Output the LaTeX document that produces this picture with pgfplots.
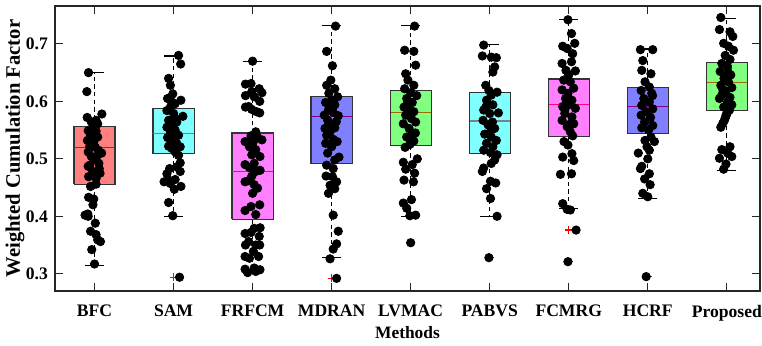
\documentclass[border=0pt]{standalone}
\usepackage{pgfplots}
\pgfplotsset{compat=1.18}
\usepackage{fontspec}
\setmainfont{Liberation Serif}
\definecolor{bred}{RGB}{255,128,128}
\definecolor{bcyan}{RGB}{128,255,255}
\definecolor{bmag}{RGB}{255,128,255}
\definecolor{bblue}{RGB}{128,128,255}
\definecolor{bgreen}{RGB}{128,255,128}
\definecolor{medgray}{RGB}{128,128,128}
\definecolor{medpink}{RGB}{255,0,128}
\definecolor{medpurp}{RGB}{128,0,128}
\definecolor{medolive}{RGB}{150,110,0}
\pgfplotsset{dots/.style={only marks, mark=*, mark size=2.1pt, draw=black, fill=black, mark options={fill=black, draw=black}},
  whisk/.style={black, line width=0.5pt, dash pattern=on 2.2pt off 1.6pt, mark=none},
  bx/.style={draw=black!80, line width=0.6pt, mark=none, fill=#1},
  med/.style={draw=#1, line width=0.6pt, mark=none}}
\begin{document}
\begin{tikzpicture}
\begin{axis}[name=ax, scale only axis, width=352.5pt, height=142.5pt,
  xmin=0.5, xmax=9.42, ymin=0.27, ymax=0.766,
  xtick={1,2,3,4,5,6,7,8,9},
  xticklabels={BFC,SAM,FRFCM,MDRAN,LVMAC,PABVS,FCMRG,HCRF,Proposed},
  ytick={0.3,0.4,0.5,0.6,0.7},
  yticklabel style={/pgf/number format/fixed,/pgf/number format/precision=1},
  xticklabel style={yshift=-3.5pt},
  /pgf/number format/assume math mode=true,
  tick label style={font=\fontsize{8.8}{10}\selectfont\bfseries},
  xlabel={Methods}, ylabel={Weighted Cumulation Factor},
  xlabel style={font=\fontsize{8.7}{10}\selectfont\bfseries, at={(axis description cs:0.5,-0.147)}, anchor=center},
  ylabel style={font=\fontsize{10.3}{12}\selectfont\bfseries, at={(axis description cs:-0.0567,0.5)}, anchor=center},
  axis line style={line width=0.6pt, black!85},
  major tick style={black!85, line width=0.5pt},
  major tick length=4pt, tick align=inside,
]
% whiskers
\addplot[whisk] coordinates {(1,0.5556) (1,0.650)};
\addplot[whisk] coordinates {(1,0.456) (1,0.3146)};
\addplot[whisk] coordinates {(2,0.5877) (2,0.679)};
\addplot[whisk] coordinates {(2,0.5087) (2,0.400)};
\addplot[whisk] coordinates {(3,0.545) (3,0.670)};
\addplot[whisk] coordinates {(3,0.3946) (3,0.301)};
\addplot[whisk] coordinates {(4,0.6078) (4,0.732)};
\addplot[whisk] coordinates {(4,0.4913) (4,0.3278)};
\addplot[whisk] coordinates {(5,0.619) (5,0.732)};
\addplot[whisk] coordinates {(5,0.5226) (5,0.400)};
\addplot[whisk] coordinates {(6,0.6155) (6,0.699)};
\addplot[whisk] coordinates {(6,0.5087) (6,0.399)};
\addplot[whisk] coordinates {(7,0.639) (7,0.743)};
\addplot[whisk] coordinates {(7,0.5395) (7,0.413)};
\addplot[whisk] coordinates {(8,0.6235) (8,0.691)};
\addplot[whisk] coordinates {(8,0.5447) (8,0.431)};
\addplot[whisk] coordinates {(9,0.6677) (9,0.744)};
\addplot[whisk] coordinates {(9,0.584) (9,0.480)};
% boxes
\addplot[bx=bred] coordinates {(0.74,0.456) (1.26,0.456) (1.26,0.5556) (0.74,0.5556) (0.74,0.456)};
\addplot[bx=bcyan] coordinates {(1.74,0.5087) (2.26,0.5087) (2.26,0.5877) (1.74,0.5877) (1.74,0.5087)};
\addplot[bx=bmag] coordinates {(2.74,0.3946) (3.26,0.3946) (3.26,0.545) (2.74,0.545) (2.74,0.3946)};
\addplot[bx=bblue] coordinates {(3.74,0.4913) (4.26,0.4913) (4.26,0.6078) (3.74,0.6078) (3.74,0.4913)};
\addplot[bx=bgreen] coordinates {(4.74,0.5226) (5.26,0.5226) (5.26,0.619) (4.74,0.619) (4.74,0.5226)};
\addplot[bx=bcyan] coordinates {(5.74,0.5087) (6.26,0.5087) (6.26,0.6155) (5.74,0.6155) (5.74,0.5087)};
\addplot[bx=bmag] coordinates {(6.74,0.5395) (7.26,0.5395) (7.26,0.639) (6.74,0.639) (6.74,0.5395)};
\addplot[bx=bblue] coordinates {(7.74,0.5447) (8.26,0.5447) (8.26,0.6235) (7.74,0.6235) (7.74,0.5447)};
\addplot[bx=bgreen] coordinates {(8.74,0.584) (9.26,0.584) (9.26,0.6677) (8.74,0.6677) (8.74,0.584)};
% medians
\addplot[med=red] coordinates {(0.745,0.520) (1.255,0.520)};
\addplot[med=medgray] coordinates {(1.745,0.5435) (2.255,0.5435)};
\addplot[med=medpink] coordinates {(2.745,0.4786) (3.255,0.4786)};
\addplot[med=medpurp] coordinates {(3.745,0.573) (4.255,0.573)};
\addplot[med=medolive] coordinates {(4.745,0.581) (5.255,0.581)};
\addplot[med=medgray] coordinates {(5.745,0.566) (6.255,0.566)};
\addplot[med=medpink] coordinates {(6.745,0.594) (7.255,0.594)};
\addplot[med=medpurp] coordinates {(7.745,0.5917) (8.255,0.5917)};
\addplot[med=medolive] coordinates {(8.745,0.6333) (9.255,0.6333)};
% whisker caps
\addplot[only marks, mark=-, mark size=4.75pt, black, mark options={line width=0.6pt}] coordinates {
(1,0.650) (1,0.3146) (2,0.679) (2,0.400) (3,0.670) (3,0.301) (4,0.732) (4,0.3278)
(5,0.732) (5,0.400) (6,0.699) (6,0.399) (7,0.743) (7,0.413) (8,0.691) (8,0.431) (9,0.744) (9,0.480)};
% outliers
\addplot[only marks, mark=+, red, mark size=2pt, mark options={line width=0.6pt}] coordinates {
(2,0.294) (4,0.292) (5,0.354) (6,0.328) (7,0.376) (7,0.321) (8,0.295)};
% data points
\addplot[dots] table {
0.924 0.650
0.903 0.617
0.907 0.572
1.093 0.578
1.020 0.567
0.960 0.564
1.040 0.561
0.980 0.555
0.920 0.549
1.020 0.548
0.950 0.540
1.040 0.538
0.910 0.532
0.990 0.529
0.940 0.522
1.010 0.520
0.920 0.512
1.050 0.515
0.960 0.504
1.020 0.498
0.940 0.489
1.055 0.492
1.060 0.483
0.920 0.487
0.980 0.478
0.925 0.469
1.020 0.466
0.950 0.452
1.020 0.456
0.925 0.433
0.990 0.430
0.980 0.420
0.915 0.404
1.010 0.388
0.920 0.400
0.950 0.374
1.020 0.368
1.075 0.356
1.040 0.359
0.965 0.342
1.000 0.317
0.880 0.402
1.090 0.510
1.070 0.475
1.000 0.545
0.960 0.530
1.030 0.505
};
\addplot[dots] table {
2.063 0.680
2.090 0.665
1.937 0.640
1.960 0.628
1.990 0.613
1.924 0.605
2.093 0.602
2.020 0.596
1.960 0.590
1.916 0.584
2.118 0.574
2.000 0.579
1.937 0.567
2.040 0.564
1.980 0.558
1.916 0.555
2.020 0.550
1.960 0.545
2.063 0.541
1.924 0.537
2.000 0.532
2.040 0.527
1.937 0.522
1.980 0.518
2.084 0.521
2.020 0.512
2.063 0.506
2.084 0.493
2.040 0.486
1.950 0.483
2.084 0.478
1.916 0.474
1.937 0.463
2.020 0.464
1.960 0.457
2.093 0.452
2.010 0.447
1.937 0.424
1.990 0.401
2.076 0.294
1.880 0.460
2.030 0.570
1.970 0.600
};
\addplot[dots] table {
3.000 0.670
2.980 0.631
3.084 0.622
3.118 0.615
2.990 0.617
3.020 0.608
2.950 0.591
2.990 0.586
3.050 0.582
2.910 0.630
2.910 0.610
2.910 0.590
3.040 0.547
2.980 0.540
3.063 0.537
3.010 0.530
3.118 0.533
2.960 0.521
3.040 0.516
2.990 0.507
3.093 0.504
3.020 0.492
2.960 0.485
3.040 0.478
2.990 0.470
2.950 0.462
3.020 0.455
3.063 0.449
3.000 0.440
2.980 0.417
3.040 0.403
3.020 0.379
2.980 0.372
3.084 0.365
2.950 0.356
3.040 0.350
3.010 0.339
3.076 0.330
2.960 0.327
3.020 0.310
3.093 0.307
2.937 0.302
3.040 0.304
2.905 0.530
2.905 0.490
2.905 0.460
2.905 0.410
2.905 0.370
2.910 0.350
2.905 0.330
2.905 0.308
3.090 0.600
3.090 0.580
3.095 0.480
3.090 0.420
3.095 0.380
3.090 0.350
};
\addplot[dots] table {
4.050 0.731
3.937 0.687
4.010 0.662
3.990 0.637
3.937 0.628
4.040 0.622
3.965 0.614
4.076 0.608
4.000 0.602
3.924 0.598
4.040 0.594
3.960 0.585
4.020 0.581
3.907 0.576
4.084 0.575
3.950 0.567
3.990 0.561
3.916 0.553
4.040 0.554
3.980 0.547
3.937 0.541
4.020 0.534
3.924 0.527
4.000 0.521
4.093 0.503
4.040 0.498
3.937 0.489
4.020 0.483
4.010 0.469
4.063 0.460
3.980 0.454
4.040 0.448
3.960 0.440
4.020 0.402
4.084 0.374
4.063 0.352
4.020 0.343
3.980 0.326
4.063 0.292
3.960 0.595
4.060 0.565
3.950 0.510
4.070 0.530
3.930 0.470
};
\addplot[dots] table {
5.050 0.731
4.924 0.689
5.040 0.687
5.063 0.663
4.937 0.648
4.965 0.637
5.040 0.628
4.924 0.622
5.000 0.615
5.076 0.610
4.950 0.605
5.020 0.598
4.916 0.590
4.980 0.585
5.040 0.582
4.937 0.576
5.010 0.570
4.907 0.561
5.063 0.564
4.980 0.553
5.020 0.544
4.950 0.538
5.040 0.531
4.990 0.525
5.084 0.500
4.907 0.494
5.020 0.490
4.937 0.482
4.916 0.463
5.035 0.460
4.907 0.423
5.010 0.429
4.950 0.414
5.063 0.402
4.990 0.401
5.000 0.354
4.960 0.600
5.060 0.545
4.930 0.520
5.050 0.475
};
\addplot[dots] table {
5.924 0.698
5.907 0.679
6.020 0.677
6.084 0.676
6.063 0.660
6.040 0.651
5.950 0.628
5.990 0.619
6.093 0.616
6.020 0.611
5.960 0.602
6.040 0.594
5.924 0.585
6.000 0.579
5.916 0.567
6.035 0.564
5.980 0.559
6.063 0.553
5.937 0.543
6.020 0.538
6.084 0.532
5.960 0.527
6.040 0.521
5.924 0.515
6.010 0.511
6.093 0.507
6.063 0.498
6.020 0.492
5.924 0.484
5.907 0.478
6.010 0.461
6.076 0.458
5.960 0.448
6.010 0.431
6.093 0.400
5.990 0.328
6.110 0.580
5.950 0.590
6.000 0.545
};
\addplot[dots] table {
6.990 0.742
7.035 0.718
6.924 0.696
7.076 0.701
6.980 0.692
7.050 0.683
6.916 0.666
7.035 0.669
6.965 0.654
7.084 0.653
7.000 0.646
6.937 0.637
7.020 0.634
6.916 0.620
7.063 0.623
6.990 0.614
6.960 0.605
7.040 0.602
6.924 0.591
7.000 0.594
7.084 0.588
6.950 0.579
7.040 0.573
6.916 0.567
7.063 0.561
6.980 0.556
7.020 0.547
7.050 0.540
6.990 0.524
6.924 0.503
7.040 0.509
7.063 0.497
6.895 0.473
7.035 0.474
6.924 0.422
6.980 0.412
7.020 0.411
7.093 0.376
6.990 0.321
6.950 0.585
7.010 0.560
6.940 0.530
};
\addplot[dots] table {
7.907 0.690
8.063 0.690
7.937 0.671
7.924 0.654
8.040 0.648
7.965 0.634
8.020 0.625
7.916 0.619
8.050 0.614
7.950 0.605
8.020 0.599
7.924 0.593
8.063 0.587
7.980 0.582
7.916 0.576
8.035 0.572
7.960 0.564
8.063 0.558
7.924 0.554
8.010 0.550
8.040 0.538
7.965 0.532
8.084 0.530
7.990 0.521
8.020 0.515
7.924 0.487
7.907 0.483
8.020 0.474
7.937 0.440
8.000 0.434
7.980 0.295
7.880 0.510
8.000 0.500
7.960 0.465
8.030 0.455
8.060 0.610
};
\addplot[dots] table {
8.924 0.746
8.907 0.725
9.040 0.721
9.076 0.713
8.960 0.701
9.020 0.696
9.084 0.689
8.980 0.680
9.040 0.673
8.937 0.666
9.010 0.660
8.916 0.652
9.050 0.646
8.965 0.640
9.020 0.634
8.924 0.628
9.063 0.624
8.990 0.618
8.937 0.611
9.040 0.607
8.907 0.605
9.010 0.599
9.063 0.594
8.960 0.590
9.035 0.585
9.000 0.578
8.980 0.571
8.950 0.562
8.924 0.555
8.970 0.567
8.990 0.576
9.040 0.521
8.937 0.516
9.010 0.510
8.907 0.501
9.063 0.504
8.990 0.491
8.960 0.482
9.020 0.650
8.950 0.620
};
\end{axis}
\pgfresetboundingbox
\path[use as bounding box] ([shift={(-27.5pt,-27.5pt)}]ax.south west) rectangle ([shift={(1pt,3pt)}]ax.north east);
\end{tikzpicture}
\end{document}
